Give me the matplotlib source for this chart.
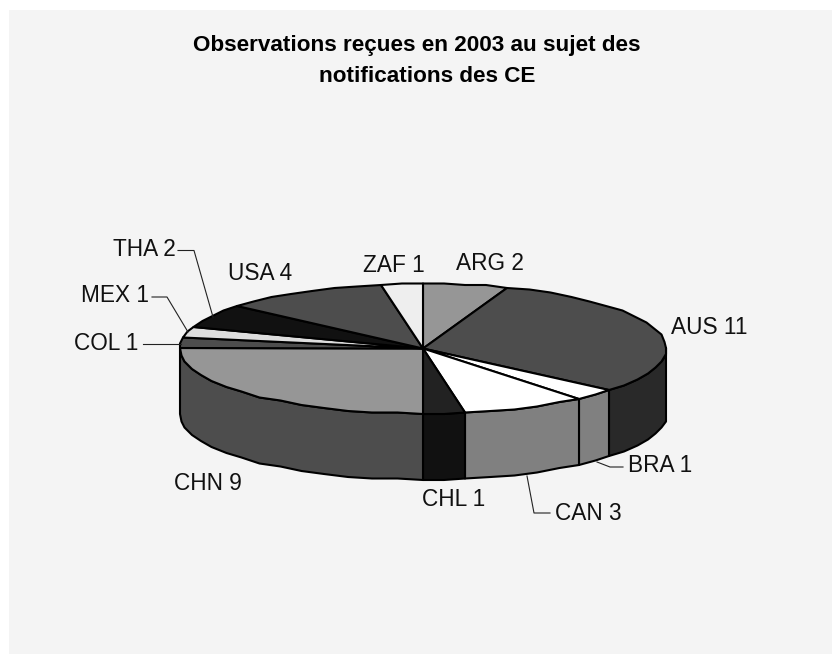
"""Tilted pie of the comments received in 2003, drawn in pixel coordinates."""

import matplotlib

matplotlib.use("Agg")
import matplotlib.pyplot as plt
import numpy as np
from matplotlib.patches import Polygon, Rectangle

plt.rcParams["font.family"] = ["Liberation Sans", "DejaVu Sans"]

# data, clockwise from 12 o'clock
countries = ["ARG", "AUS", "BRA", "CAN", "CHL", "CHN", "COL", "MEX", "THA", "USA", "ZAF"]
counts = [2, 11, 1, 3, 1, 9, 1, 1, 2, 4, 1]
top_colors = ["#969696", "#4d4d4d", "#ffffff", "#ffffff", "#222222", "#969696",
              "#4d4d4d", "#dddddd", "#111111", "#4d4d4d", "#eeeeee"]
side_colors = ["#969696", "#292929", "#808080", "#808080", "#111111", "#4d4d4d",
               "#4d4d4d", "#dddddd", "#111111", "#4d4d4d", "#eeeeee"]

W, H = 832, 654
CX, CY = 423, 348.5
RX, RY = 243.5, 65
DEPTH = 66
STEP = 6  # the rim of the original is a coarse polygon

LABEL_POS = {
    "ARG": (490, 264), "AUS": (709, 328), "BRA": (660, 465), "CAN": (588, 513),
    "CHL": (454, 500), "CHN": (208, 483), "COL": (106, 344), "MEX": (115, 296),
    "THA": (144, 250), "USA": (260, 274), "ZAF": (394, 265),
}
LEADERS = [
    [(178, 250.5), (194, 250.5), (213, 317)],
    [(152, 297), (167, 297), (188, 332)],
    [(143, 344), (181, 344)],
    [(623, 467), (610, 467), (597, 462)],
    [(550, 513), (534, 513), (527, 476)],
]


def rim(a0, a1):
    """Points on the top ellipse between two angles (deg, clockwise from north)."""
    n = max(int(np.ceil((a1 - a0) / STEP)), 1)
    a = np.radians(np.linspace(a0, a1, n + 1))
    pts = np.column_stack([CX + RX * np.sin(a), CY - RY * np.cos(a)])
    return np.round(pts / 1.5) * 1.5


fig = plt.figure(figsize=(W / 100, H / 100), dpi=100, facecolor="white")
ax = fig.add_axes([0, 0, 1, 1])
ax.set_xlim(0, W)
ax.set_ylim(H, 0)
ax.axis("off")
ax.add_patch(Rectangle((9, 10), W - 9, H - 10, facecolor="#f4f4f4", edgecolor="none"))

edges = np.concatenate([[0], np.cumsum(counts)]) / sum(counts) * 360

# side wall, only the part facing the viewer
for i, color in enumerate(side_colors):
    a0, a1 = max(edges[i], 90), min(edges[i + 1], 270)
    if a1 <= a0:
        continue
    upper = rim(a0, a1)
    lower = upper[::-1] + [0, DEPTH]
    ax.add_patch(Polygon(np.vstack([upper, lower]), closed=True, facecolor=color,
                         edgecolor="black", linewidth=1.5, joinstyle="round"))

# top wedges
for i, color in enumerate(top_colors):
    pts = np.vstack([[CX, CY], rim(edges[i], edges[i + 1])])
    ax.add_patch(Polygon(pts, closed=True, facecolor=color, edgecolor="black",
                         linewidth=1.5, joinstyle="round"))

for name, n in zip(countries, counts):
    x, y = LABEL_POS[name]
    ax.text(x, y, f"{name} {n}", fontsize=16.3, ha="center", va="center", color="#111111")

for leader in LEADERS:
    xs, ys = zip(*leader)
    ax.plot(xs, ys, color="#222222", linewidth=0.8)

ax.text(416.5, 45, "Observations reçues en 2003 au sujet des",
        fontsize=16.2, fontweight="bold", ha="center", va="center")
ax.text(427, 77, "notifications des CE",
        fontsize=16.2, fontweight="bold", ha="center", va="center")

fig.savefig("out.png", dpi=100, facecolor="white")
